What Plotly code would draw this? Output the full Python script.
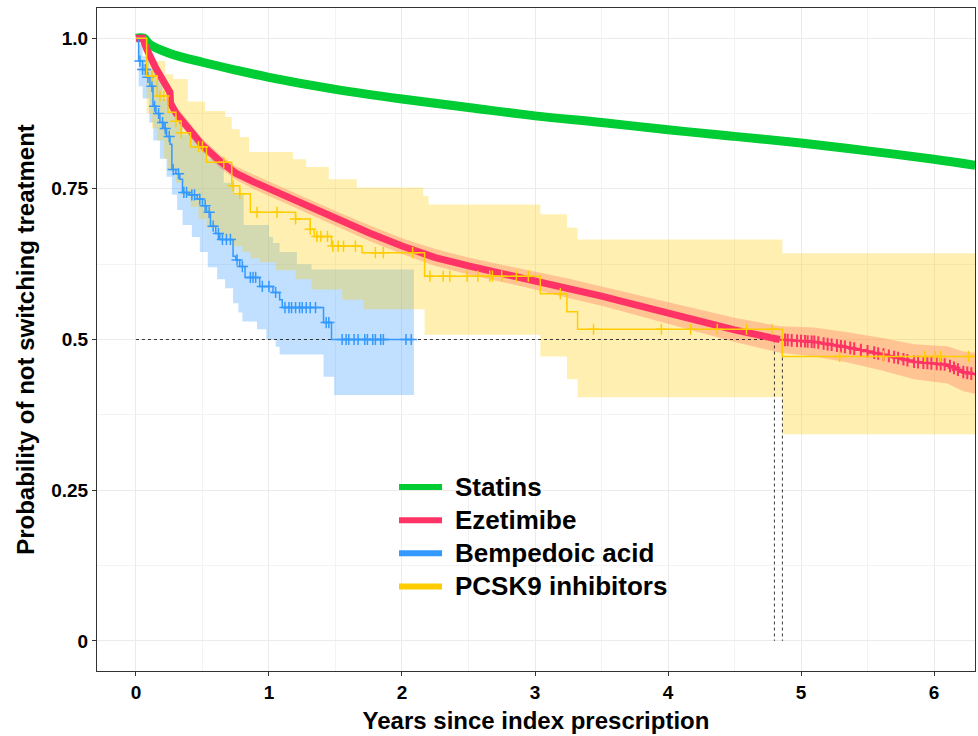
import numpy as np
import plotly.graph_objects as go

# ---------------- data ----------------
groups = ["Statins", "Ezetimibe", "Bempedoic acid", "PCSK9 inhibitors"]
colors = ["#00cc33", "#ff3366", "#3399ff", "#ffcc00"]
band_colors = ["rgba(0,204,51,0.3)", "rgba(255,51,102,0.3)", "rgba(51,153,255,0.3)", "rgba(255,204,0,0.3)"]

# Statins (smooth, very many events)
stat_t = [0, 0.06, 0.1, 0.25, 0.5, 0.75, 1.0, 1.5, 2.0, 2.5, 3.0, 3.5, 4.0, 4.5, 5.0, 5.5, 6.0, 6.31]
stat_s = [1, 1, 0.99, 0.975, 0.96, 0.947, 0.935, 0.915, 0.899, 0.885, 0.871, 0.86, 0.848, 0.837, 0.826, 0.813, 0.799, 0.789]

# Ezetimibe
eze_t = [0, 0.05, 0.08, 0.15, 0.256, 0.26, 0.3, 0.38, 0.5, 0.63, 0.75, 0.88, 1.0, 1.25, 1.5, 1.75, 2.0,
         2.25, 2.5, 2.75, 3.0, 3.25, 3.5, 3.75, 4.0, 4.25, 4.5, 4.84, 5.1, 5.35, 5.6, 5.85, 6.1, 6.22, 6.31]
eze_s = [1, 1, 0.982, 0.95, 0.91, 0.892, 0.876, 0.854, 0.822, 0.796, 0.776, 0.762, 0.75, 0.725, 0.701, 0.677, 0.655,
         0.636, 0.622, 0.610, 0.598, 0.585, 0.572, 0.558, 0.544, 0.530, 0.516, 0.500, 0.496, 0.487, 0.476, 0.463, 0.458, 0.446, 0.442]
eze_hi = [1, 1, 0.99, 0.96, 0.921, 0.903, 0.887, 0.865, 0.833, 0.807, 0.787, 0.774, 0.762, 0.737, 0.713, 0.690, 0.668,
          0.650, 0.636, 0.624, 0.613, 0.601, 0.588, 0.575, 0.562, 0.549, 0.536, 0.522, 0.520, 0.512, 0.503, 0.492, 0.489, 0.480, 0.478]
eze_lo = [1, 1, 0.974, 0.94, 0.899, 0.881, 0.865, 0.843, 0.811, 0.785, 0.765, 0.750, 0.738, 0.713, 0.689, 0.664, 0.642,
          0.622, 0.608, 0.596, 0.583, 0.569, 0.556, 0.541, 0.526, 0.511, 0.496, 0.478, 0.472, 0.462, 0.449, 0.434, 0.427, 0.414, 0.410]
eze_censor = [4.88, 4.9, 4.93, 4.97, 5.0, 5.03, 5.05, 5.08, 5.1, 5.13, 5.17, 5.2, 5.23, 5.27, 5.3, 5.33, 5.37, 5.4,
              5.45, 5.5, 5.55, 5.58, 5.62, 5.66, 5.7, 5.73, 5.77, 5.8, 5.85, 5.88, 5.92, 5.95, 5.98, 6.02, 6.05,
              6.08, 6.12, 6.15, 6.18, 6.22, 6.25, 6.28]

# Bempedoic acid (step function)
bem_t = [0, 0.02, 0.05, 0.08, 0.105, 0.128, 0.15, 0.18, 0.21, 0.23, 0.256, 0.27, 0.30, 0.33, 0.35, 0.40, 0.46, 0.50,
         0.53, 0.56, 0.60, 0.63, 0.73, 0.75, 0.78, 0.82, 0.93, 1.03, 1.08, 1.10, 1.41, 1.47, 2.09]
bem_s = [1, 0.962, 0.948, 0.935, 0.92, 0.887, 0.875, 0.86, 0.85, 0.837, 0.824, 0.782, 0.775, 0.766, 0.744, 0.740, 0.733, 0.722,
         0.711, 0.688, 0.676, 0.666, 0.638, 0.632, 0.621, 0.603, 0.588, 0.578, 0.566, 0.553, 0.528, 0.500, 0.500]
bem_hi_t = [0, 0.02, 0.05, 0.1, 0.15, 0.2, 0.25, 0.3, 0.35, 0.45, 0.53, 0.66, 0.74, 0.81, 1.0, 1.03, 1.08, 1.21, 1.32, 2.09]
bem_hi_s = [1, 0.99, 0.97, 0.95, 0.93, 0.90, 0.88, 0.86, 0.84, 0.825, 0.80, 0.76, 0.74, 0.69, 0.67, 0.66, 0.645, 0.625, 0.616, 0.616]
bem_lo_t = [0, 0.02, 0.05, 0.1, 0.13, 0.18, 0.23, 0.27, 0.31, 0.35, 0.42, 0.48, 0.54, 0.61, 0.67, 0.73, 0.77, 0.80,
            0.91, 0.98, 1.05, 1.08, 1.41, 1.49, 2.09]
bem_lo_s = [1, 0.92, 0.90, 0.86, 0.83, 0.80, 0.77, 0.74, 0.715, 0.69, 0.67, 0.645, 0.62, 0.60, 0.585, 0.56, 0.545, 0.53,
            0.517, 0.50, 0.488, 0.475, 0.438, 0.408, 0.408]
bem_censor = [0.03, 0.05, 0.07, 0.09, 0.12, 0.14, 0.17, 0.2, 0.22, 0.25, 0.28, 0.32, 0.36, 0.38, 0.42, 0.44, 0.48, 0.52,
              0.55, 0.58, 0.62, 0.65, 0.68, 0.71, 0.76, 0.80, 0.86, 0.88, 0.90, 0.95, 1.0, 1.05, 1.12, 1.15, 1.17, 1.2,
              1.23, 1.25, 1.28, 1.31, 1.35, 1.43, 1.45, 1.55, 1.58, 1.6, 1.64, 1.67, 1.72, 1.74, 1.78, 1.8, 1.84, 1.86,
              2.03, 2.07]

# PCSK9 inhibitors (step function)
pcs_t = [0, 0.08, 0.16, 0.24, 0.30, 0.34, 0.41, 0.53, 0.72, 0.78, 0.86, 1.20, 1.31, 1.34, 1.47, 1.70, 2.17, 3.04,
         3.24, 3.32, 4.86, 6.31]
pcs_s = [1, 0.937, 0.904, 0.877, 0.862, 0.843, 0.82, 0.794, 0.755, 0.742, 0.711, 0.70, 0.683, 0.671, 0.655, 0.644,
         0.605, 0.576, 0.546, 0.517, 0.472, 0.472]
pcs_hi_t = [0, 0.08, 0.12, 0.22, 0.28, 0.39, 0.52, 0.67, 0.72, 0.78, 0.85, 1.18, 1.28, 1.45, 1.66, 2.16, 2.2, 3.04,
            3.24, 3.32, 4.86, 6.31]
pcs_hi_s = [1, 0.985, 0.962, 0.94, 0.932, 0.895, 0.879, 0.869, 0.849, 0.836, 0.811, 0.799, 0.786, 0.766, 0.752, 0.738,
            0.724, 0.708, 0.686, 0.666, 0.643, 0.643]
pcs_lo_t = [0, 0.08, 0.12, 0.16, 0.21, 0.24, 0.30, 0.34, 0.41, 0.47, 0.53, 0.62, 0.72, 0.80, 0.86, 0.93, 1.05, 1.2,
            1.32, 1.55, 1.71, 2.17, 3.04, 3.24, 3.32, 4.86, 6.31]
pcs_lo_s = [1, 0.875, 0.85, 0.83, 0.80, 0.78, 0.76, 0.74, 0.72, 0.70, 0.685, 0.67, 0.655, 0.645, 0.635, 0.628, 0.615,
            0.60, 0.583, 0.566, 0.55, 0.508, 0.472, 0.434, 0.404, 0.343, 0.343]
pcs_censor = [0.12, 0.18, 0.21, 0.30, 0.34, 0.47, 0.50, 0.66, 0.73, 0.78, 0.91, 1.06, 1.20, 1.31, 1.36, 1.39, 1.44,
              1.48, 1.52, 1.56, 1.65, 1.80, 1.86, 2.08, 2.21, 2.31, 2.36, 2.49, 2.57, 2.66, 2.68, 2.75, 2.86, 2.95,
              3.19, 3.44, 3.95, 4.17, 4.37, 4.59, 4.78, 5.29, 5.62, 5.93, 6.01, 6.05, 6.26]

medians = [4.80, 4.86]
median_level = 0.5

x_ticks = [0, 1, 2, 3, 4, 5, 6]
y_ticks = [0, 0.25, 0.5, 0.75, 1.0]
y_ticktext = ["0", "0.25", "0.5", "0.75", "1.0"]
x_title = "Years since index prescription"
y_title = "Probability of not switching treatment"


def step_value(t_arr, s_arr, x):
    idx = np.searchsorted(np.array(t_arr), np.array(x), side="right") - 1
    return list(np.array(s_arr)[idx])


fig = go.Figure()

# ---- confidence bands (ggplot order: Ezetimibe, Bempedoic, PCSK9) ----
fig.add_trace(go.Scatter(x=eze_t, y=eze_lo, mode="lines", line=dict(width=0), showlegend=False, hoverinfo="skip"))
fig.add_trace(go.Scatter(x=eze_t, y=eze_hi, mode="lines", line=dict(width=0), fill="tonexty",
                         fillcolor=band_colors[1], showlegend=False, hoverinfo="skip"))
fig.add_trace(go.Scatter(x=bem_lo_t, y=bem_lo_s, mode="lines", line=dict(width=0, shape="hv"), showlegend=False, hoverinfo="skip"))
fig.add_trace(go.Scatter(x=bem_hi_t, y=bem_hi_s, mode="lines", line=dict(width=0, shape="hv"), fill="tonexty",
                         fillcolor=band_colors[2], showlegend=False, hoverinfo="skip"))
fig.add_trace(go.Scatter(x=pcs_lo_t, y=pcs_lo_s, mode="lines", line=dict(width=0, shape="hv"), showlegend=False, hoverinfo="skip"))
fig.add_trace(go.Scatter(x=pcs_hi_t, y=pcs_hi_s, mode="lines", line=dict(width=0, shape="hv"), fill="tonexty",
                         fillcolor=band_colors[3], showlegend=False, hoverinfo="skip"))

# ---- median lines ----
dash_style = dict(color="#222222", width=0.9, dash="3px,3px")
fig.add_trace(go.Scatter(x=[0, max(medians)], y=[median_level, median_level], mode="lines", line=dash_style,
                         showlegend=False, hoverinfo="skip"))
for m in medians:
    fig.add_trace(go.Scatter(x=[m, m], y=[median_level, 0], mode="lines", line=dash_style,
                             showlegend=False, hoverinfo="skip"))

# ---- curves ----
fig.add_trace(go.Scatter(x=stat_t, y=stat_s, mode="lines", line=dict(color=colors[0], width=9, shape="spline"),
                         name=groups[0], showlegend=False))

cut = eze_t.index(4.84) + 1
fig.add_trace(go.Scatter(x=eze_t, y=eze_s, mode="lines", line=dict(color=colors[1], width=2), showlegend=False))
fig.add_trace(go.Scatter(x=eze_t[:cut], y=eze_s[:cut], mode="lines", line=dict(color=colors[1], width=7),
                         name=groups[1], showlegend=False))
fig.add_trace(go.Scatter(x=eze_censor, y=list(np.interp(eze_censor, eze_t, eze_s)), mode="markers",
                         marker=dict(symbol="cross-thin", size=9, line=dict(color=colors[1], width=2)),
                         showlegend=False))

fig.add_trace(go.Scatter(x=bem_t, y=bem_s, mode="lines", line=dict(color=colors[2], width=1.5, shape="hv"),
                         name=groups[2], showlegend=False))
fig.add_trace(go.Scatter(x=bem_censor, y=step_value(bem_t, bem_s, bem_censor), mode="markers",
                         marker=dict(symbol="cross-thin", size=8, line=dict(color=colors[2], width=1.5)),
                         showlegend=False))

fig.add_trace(go.Scatter(x=pcs_t, y=pcs_s, mode="lines", line=dict(color=colors[3], width=1.5, shape="hv"),
                         name=groups[3], showlegend=False))
fig.add_trace(go.Scatter(x=pcs_censor, y=step_value(pcs_t, pcs_s, pcs_censor), mode="markers",
                         marker=dict(symbol="cross-thin", size=8, line=dict(color=colors[3], width=1.5)),
                         showlegend=False))

font_family = "Liberation Sans, Arial, sans-serif"

# ---- legend drawn inside the panel (key lines + labels) ----
leg_x0, leg_x1, leg_tx = 0.344, 0.393, 0.4055
leg_y = [0.2775, 0.2275, 0.1775, 0.1275]
shapes = []
annotations = []
for g, c, yy in zip(groups, colors, leg_y):
    shapes.append(dict(type="line", xref="paper", yref="paper", x0=leg_x0, x1=leg_x1, y0=yy, y1=yy,
                       line=dict(color=c, width=6)))
    annotations.append(dict(xref="paper", yref="paper", x=leg_tx, y=yy, xanchor="left", yanchor="middle",
                            text=g, showarrow=False,
                            font=dict(size=26, family=font_family, color="black", weight="bold")))

grid_major = "#ebebeb"
minor_cfg_x = dict(tickvals=[0.5, 1.5, 2.5, 3.5, 4.5, 5.5], showgrid=True, gridcolor="#f3f3f3", gridwidth=0.6, ticks="")
minor_cfg_y = dict(tickvals=[0.125, 0.375, 0.625, 0.875], showgrid=True, gridcolor="#f3f3f3", gridwidth=0.6, ticks="")

fig.update_layout(
    width=978, height=736,
    margin=dict(l=97, r=3, t=8, b=65),
    paper_bgcolor="white", plot_bgcolor="white",
    font=dict(family=font_family, color="black"),
    showlegend=False,
    shapes=shapes,
    annotations=annotations,
    xaxis=dict(range=[-0.293, 6.308], tickvals=x_ticks, showgrid=True, gridcolor=grid_major, gridwidth=1,
               zeroline=False, showline=True, linecolor="#333333", linewidth=1, mirror=True,
               ticks="outside", ticklen=4, tickcolor="#333333",
               tickfont=dict(size=19, family=font_family, color="black", weight="bold"),
               title=dict(text=x_title, font=dict(size=24, family=font_family, color="black", weight="bold"), standoff=10),
               minor=minor_cfg_x),
    yaxis=dict(range=[-0.05, 1.05], tickvals=y_ticks, ticktext=y_ticktext, showgrid=True, gridcolor=grid_major,
               gridwidth=1, zeroline=False, showline=True, linecolor="#333333", linewidth=1, mirror=True,
               ticks="outside", ticklen=4, tickcolor="#333333",
               tickfont=dict(size=19, family=font_family, color="black", weight="bold"),
               title=dict(text=y_title, font=dict(size=24, family=font_family, color="black", weight="bold"), standoff=9),
               minor=minor_cfg_y),
)

fig.write_html("out.html", post_script="document.body.style.margin='0';",
               config={"displayModeBar": False})
